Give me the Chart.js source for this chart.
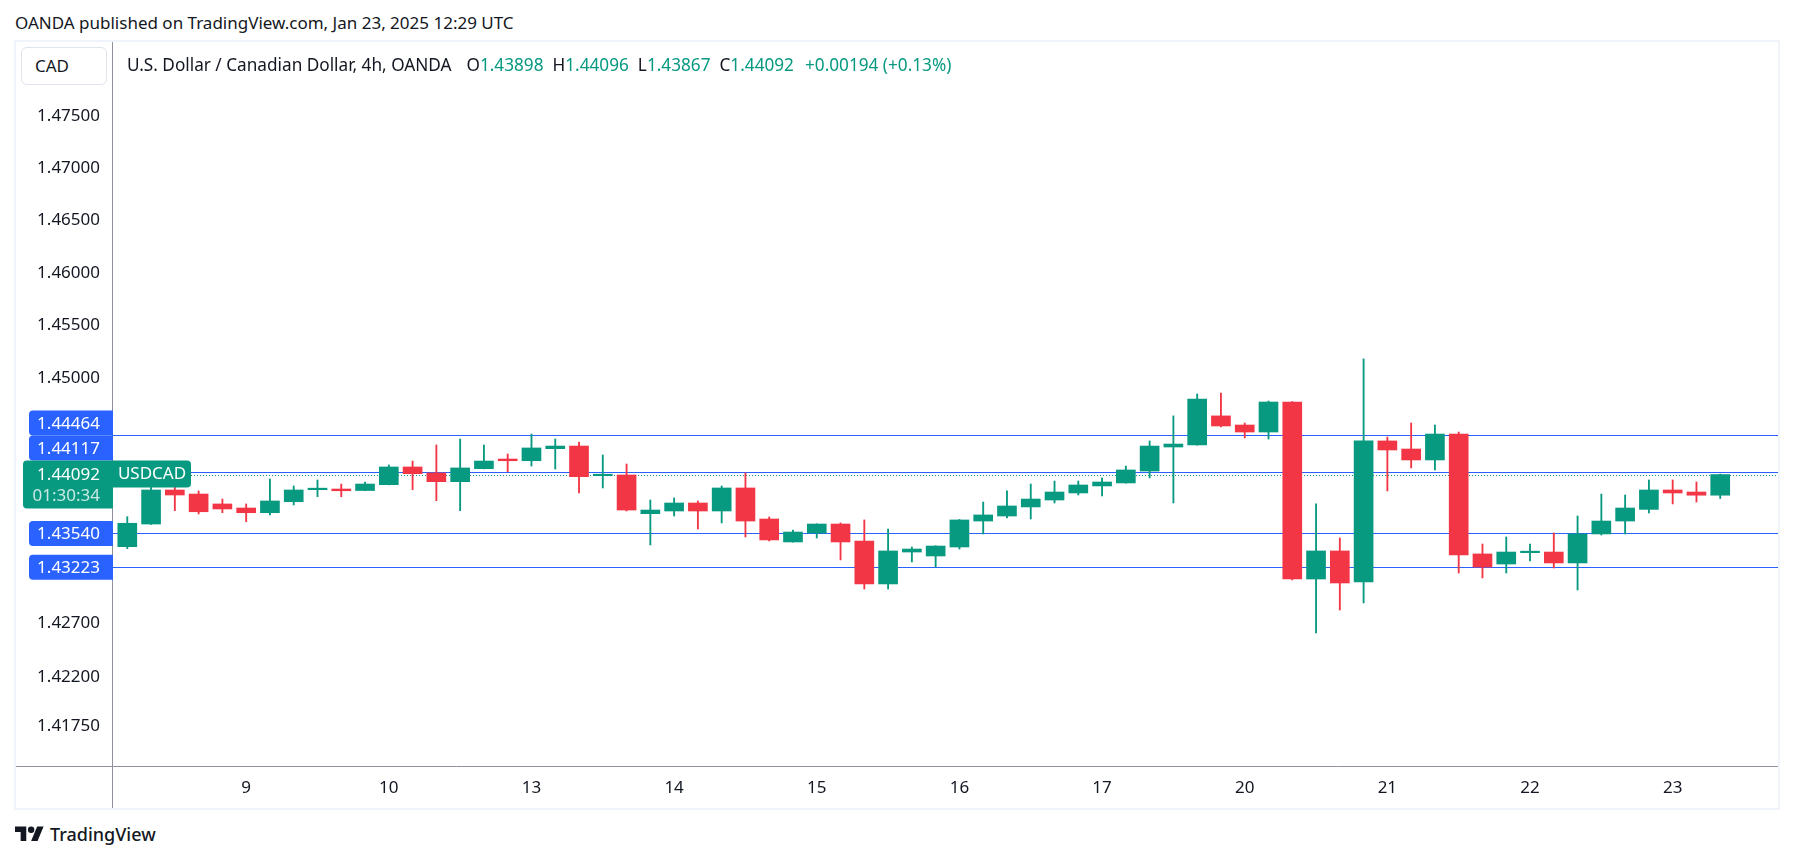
<!DOCTYPE html>
<html><head><meta charset="utf-8">
<script src="https://cdn.jsdelivr.net/npm/chart.js@4.4.1/dist/chart.umd.min.js"></script>
<style>
html,body{margin:0;padding:0;background:#fff;}
body{width:1793px;height:861px;position:relative;overflow:hidden;font-family:"Noto Sans",sans-serif;color:#131722;}
#pub{position:absolute;left:15px;top:12px;font-size:17px;line-height:22px;white-space:nowrap;}
#frame{position:absolute;left:14px;top:40px;width:1762px;height:766px;border:2px solid #f0f3fa;}
#c{position:absolute;left:16px;top:42px;}
#cad{position:absolute;left:21px;top:47px;width:71px;height:36px;padding-left:13px;border:1px solid #e0e3eb;border-radius:6px;background:#fff;font-size:17px;line-height:36px;}
#legend{position:absolute;left:127px;top:54px;font-size:17.2px;line-height:22px;white-space:nowrap;}
#legend .g{color:#089981}
#logo{position:absolute;left:15px;top:823px;}
#tv{position:absolute;left:50px;top:822px;font-size:18px;line-height:24px;font-weight:500;}
</style></head>
<body>
<div id="pub">OANDA published on TradingView.com, Jan 23, 2025 12:29 UTC</div>
<div id="frame"></div>
<canvas id="c" width="1762" height="766"></canvas>
<div id="cad">CAD</div>
<div id="legend"></div>
<svg id="logo" width="29" height="23" viewBox="0 0 36 28"><path fill="#131722" d="M14 22H7V11H0V4h14v18zM28 22h-8l7.5-18h8L28 22z"/><circle fill="#131722" cx="20" cy="8" r="4"/></svg>
<div id="tv">TradingView</div>
<script>
// ---- data ----
const candleDays = [8,8,8,8,8, 9,9,9,9,9,9, 10,10,10,10,10,10, 13,13,13,13,13,13, 14,14,14,14,14,14,
  15,15,15,15,15,15, 16,16,16,16,16,16, 17,17,17,17,17,17, 20,20,20,20,20,20, 21,21,21,21,21,21,
  22,22,22,22,22,22, 23,23,23];
const open = [1.43416,1.43628,1.43947,1.43909,1.43816,1.43778,1.43734,1.43837,1.43950,1.43956,
  1.43942,1.43997,1.44163,1.44107,1.44025,1.44147,1.44238,1.44222,1.44335,1.44360,
  1.44081,1.44088,1.43725,1.43750,1.43825,1.43750,1.43966,1.43675,1.43460,1.43544,
  1.43628,1.43469,1.43068,1.43366,1.43329,1.43413,1.43656,1.43703,1.43788,1.43853,
  1.43919,1.43985,1.44013,1.44125,1.44351,1.44370,1.44644,1.44558,1.44492,1.44775,
  1.43114,1.43376,1.43086,1.44408,1.44332,1.44229,1.44473,1.43348,1.43254,1.43360,
  1.43366,1.43264,1.43535,1.43656,1.43765,1.43947,1.43928,1.43898];
const high = [1.43697,1.43975,1.43975,1.43938,1.43862,1.43816,1.44050,1.43985,1.44041,1.44003,
  1.44022,1.44182,1.44219,1.44370,1.44426,1.44370,1.44285,1.44473,1.44426,1.44398,
  1.44276,1.44191,1.43853,1.43872,1.43844,1.43985,1.44107,1.43694,1.43572,1.43630,
  1.43638,1.43666,1.43581,1.43413,1.43425,1.43670,1.43834,1.43938,1.44003,1.44031,
  1.44031,1.44060,1.44172,1.44408,1.44644,1.44851,1.44860,1.44577,1.44784,1.44780,
  1.43816,1.43497,1.45182,1.44445,1.44577,1.44558,1.44492,1.43441,1.43507,1.43441,
  1.43544,1.43703,1.43909,1.43900,1.44041,1.44041,1.44022,1.44096];
const low = [1.43397,1.43625,1.43753,1.43722,1.43734,1.43650,1.43713,1.43806,1.43884,1.43884,
  1.43940,1.43995,1.43950,1.43847,1.43753,1.44145,1.44119,1.44172,1.44144,1.43919,
  1.43966,1.43750,1.43432,1.43703,1.43581,1.43638,1.43507,1.43469,1.43458,1.43497,
  1.43292,1.43021,1.43021,1.43273,1.43226,1.43394,1.43535,1.43684,1.43675,1.43825,
  1.43900,1.43891,1.44011,1.44060,1.43825,1.44368,1.44539,1.44436,1.44426,1.43105,
  1.42611,1.42825,1.42891,1.43938,1.44154,1.44135,1.43170,1.43124,1.43170,1.43282,
  1.43217,1.43012,1.43525,1.43535,1.43731,1.43816,1.43834,1.43867];
const close = [1.43635,1.43947,1.43900,1.43743,1.43769,1.43734,1.43844,1.43947,1.43956,1.43940,
  1.44003,1.44163,1.44100,1.44025,1.44154,1.44219,1.44222,1.44342,1.44360,1.44072,
  1.44088,1.43759,1.43759,1.43825,1.43750,1.43966,1.43656,1.43479,1.43553,1.43628,
  1.43460,1.43068,1.43376,1.43394,1.43422,1.43666,1.43713,1.43797,1.43862,1.43928,
  1.43994,1.44022,1.44135,1.44360,1.44379,1.44803,1.44549,1.44492,1.44775,1.43114,
  1.43376,1.43077,1.44408,1.44323,1.44229,1.44473,1.43338,1.43226,1.43366,1.43366,
  1.43264,1.43535,1.43656,1.43778,1.43947,1.43919,1.43898,1.44092];
const levels = [1.44464, 1.44117, 1.43540, 1.43223];
const yTicks = [1.475, 1.470, 1.465, 1.460, 1.455, 1.450, 1.427, 1.422, 1.4175];
const symbol = 'USDCAD';
const countdown = '01:30:34';
const title = 'U.S. Dollar / Canadian Dollar, 4h, OANDA';

// ---- style ----
const GREEN = '#089981', RED = '#F23645', BLUE = '#2962FF', TXT = '#131722', SEP = '#8f929b';
const FONT = '"Noto Sans", sans-serif';

// legend
(function(){
  const n = close.length - 1;
  const chg = close[n] - close[n-1];
  const pct = chg / close[n-1] * 100;
  const sg = v => (v >= 0 ? '+' : '') ;
  const el = document.getElementById('legend');
  el.innerHTML = title +
    '<span style="margin-left:15px">O</span><span class="g">' + open[n].toFixed(5) + '</span>' +
    '<span style="margin-left:9px">H</span><span class="g">' + high[n].toFixed(5) + '</span>' +
    '<span style="margin-left:9px">L</span><span class="g">' + low[n].toFixed(5) + '</span>' +
    '<span style="margin-left:9px">C</span><span class="g">' + close[n].toFixed(5) + '</span>' +
    '<span class="g" style="margin-left:11px">' + sg(chg) + chg.toFixed(5) + ' (' + sg(pct) + pct.toFixed(2) + '%)</span>';
})();

const idx = close.map((_, i) => i);
const colors = close.map((c, i) => c >= open[i] ? GREEN : RED);
const dayStarts = idx.filter(i => i > 0 && candleDays[i] !== candleDays[i-1]);

function roundLeft(ctx, x, y, w, h, r) {
  ctx.beginPath();
  ctx.moveTo(x + w, y); ctx.lineTo(x + r, y); ctx.arcTo(x, y, x, y + r, r);
  ctx.lineTo(x, y + h - r); ctx.arcTo(x, y + h, x + r, y + h, r); ctx.lineTo(x + w, y + h); ctx.closePath();
}
function roundRight(ctx, x, y, w, h, r) {
  ctx.beginPath();
  ctx.moveTo(x, y); ctx.lineTo(x + w - r, y); ctx.arcTo(x + w, y, x + w, y + r, r);
  ctx.lineTo(x + w, y + h - r); ctx.arcTo(x + w, y + h, x + w - r, y + h, r); ctx.lineTo(x, y + h); ctx.closePath();
}

const overlay = {
  id: 'overlay',
  beforeDatasetsDraw(chart) {
    const {ctx, chartArea: a, scales: {y}} = chart;
    ctx.save();
    ctx.lineWidth = 1.2; ctx.strokeStyle = BLUE;
    levels.forEach(v => {
      const py = Math.round(y.getPixelForValue(v)) + 0.5;
      ctx.beginPath(); ctx.moveTo(a.left, py); ctx.lineTo(a.right, py); ctx.stroke();
    });
    const last = close[close.length - 1];
    const py = Math.round(y.getPixelForValue(last)) + 0.5;
    ctx.lineWidth = 1; ctx.strokeStyle = GREEN; ctx.setLineDash([1, 2]);
    ctx.beginPath(); ctx.moveTo(a.left, py); ctx.lineTo(a.right, py); ctx.stroke();
    ctx.restore();
  },
  afterDraw(chart) {
    const {ctx, chartArea: a, scales: {y}} = chart;
    const W = chart.width, H = chart.height;
    ctx.save();
    // separators
    ctx.strokeStyle = SEP; ctx.lineWidth = 1;
    ctx.beginPath(); ctx.moveTo(Math.round(a.left) - 0.5, 0); ctx.lineTo(Math.round(a.left) - 0.5, H); ctx.stroke();
    ctx.beginPath(); ctx.moveTo(0, Math.round(a.bottom) + 0.5); ctx.lineTo(W, Math.round(a.bottom) + 0.5); ctx.stroke();

    // price labels
    ctx.font = '17px ' + FONT; ctx.textAlign = 'right'; ctx.textBaseline = 'middle';
    const tx = a.left - 13;
    const last = close[close.length - 1];
    const cy = y.getPixelForValue(last);
    const gTop = cy - 14, gBot = cy + 34;
    const bh = 25;
    const items = levels.map(v => ({v, y: y.getPixelForValue(v)}));
    const above = items.filter(it => it.y < cy).sort((p, q) => q.y - p.y);
    const below = items.filter(it => it.y >= cy).sort((p, q) => p.y - q.y);
    let lim = gTop;
    above.forEach(it => { it.c = Math.min(it.y, lim - bh / 2); lim = it.c - bh / 2; });
    lim = gBot;
    below.forEach(it => { it.c = Math.max(it.y, lim + bh / 2); lim = it.c + bh / 2; });
    items.forEach(it => {
      ctx.fillStyle = BLUE;
      roundLeft(ctx, a.left - 84, it.c - bh / 2, 84, bh, 4); ctx.fill();
      ctx.fillStyle = '#fff';
      ctx.fillText(it.v.toFixed(5), tx, it.c + 1);
    });
    // current price box
    ctx.fillStyle = GREEN;
    roundLeft(ctx, a.left - 90, gTop, 90, gBot - gTop, 4); ctx.fill();
    ctx.fillStyle = '#fff';
    ctx.fillText(last.toFixed(5), tx, cy + 1);
    ctx.fillStyle = 'rgba(255,255,255,0.78)';
    ctx.fillText(countdown, tx, cy + 22);
    // symbol label
    ctx.fillStyle = GREEN;
    roundRight(ctx, a.left, cy - 14, 78, 27, 4); ctx.fill();
    ctx.fillStyle = '#fff'; ctx.textAlign = 'center';
    ctx.fillText(symbol, a.left + 39, cy);
    ctx.restore();
  }
};

function draw() {
  new Chart(document.getElementById('c'), {
    type: 'bar',
    data: {
      datasets: [
        {
          label: 'wick', order: 1, grouped: false,
          data: idx.map(i => ({x: i, y: [low[i], high[i]]})),
          backgroundColor: colors, barThickness: 1.2, borderWidth: 0
        },
        {
          label: 'body', order: 0, grouped: false,
          data: idx.map(i => ({x: i, y: [open[i], close[i]]})),
          backgroundColor: colors, barThickness: 19, minBarLength: 1.5, borderWidth: 0
        }
      ]
    },
    options: {
      responsive: false, animation: false, devicePixelRatio: 1, events: [],
      layout: {padding: 0},
      plugins: {legend: {display: false}, tooltip: {enabled: false}},
      scales: {
        x: {
          type: 'linear', offset: false, min: -0.601, max: 69.43,
          grid: {display: false, drawTicks: false}, border: {display: false},
          afterFit: s => { s.height = 42; s.paddingLeft = 0; s.paddingRight = 0; s.paddingTop = 0; s.paddingBottom = 0; },
          afterBuildTicks: s => { s.ticks = dayStarts.map(v => ({value: v})); },
          ticks: {autoSkip: false, maxRotation: 0, padding: 12, color: TXT, font: {family: FONT, size: 17},
            callback: v => String(candleDays[v])}
        },
        y: {
          type: 'logarithmic', position: 'left', min: 1.41380, max: 1.48213,
          grid: {display: false, drawTicks: false}, border: {display: false},
          afterFit: s => { s.width = 97; s.paddingTop = 0; s.paddingBottom = 0; s.paddingLeft = 0; s.paddingRight = 0; },
          afterBuildTicks: s => { s.ticks = yTicks.map(v => ({value: v})); },
          ticks: {autoSkip: false, padding: 13, color: TXT, font: {family: FONT, size: 17},
            callback: v => Number(v).toFixed(5)}
        }
      }
    },
    plugins: [overlay]
  });
}
if (document.fonts && document.fonts.load) {
  document.fonts.load('17px "Noto Sans"').then(draw, draw);
} else draw();
</script>
</body></html>
